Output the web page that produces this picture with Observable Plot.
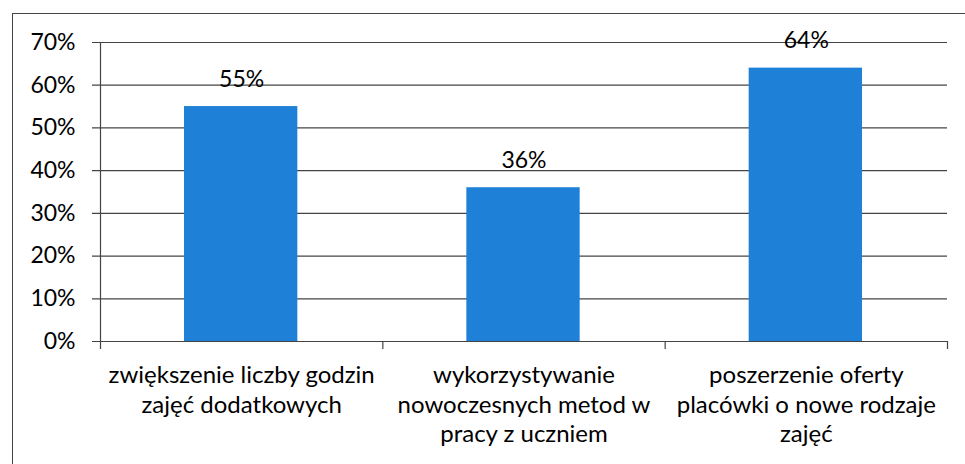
<!DOCTYPE html>
<html>
<head>
<meta charset="utf-8">
<script src="https://cdn.jsdelivr.net/npm/d3@7"></script>
<script src="https://cdn.jsdelivr.net/npm/@observablehq/plot@0.6"></script>
<style>
  html, body { margin: 0; padding: 0; background: #fff; }
  #wrap { position: relative; width: 965px; height: 464px; overflow: hidden; }
  #border { position: absolute; left: 12px; top: 13px; width: 1000px; height: 500px;
            border-left: 1.5px solid #444; border-top: 1.5px solid #444; pointer-events: none; }
</style>
</head>
<body>
<div id="wrap"><div id="border"></div></div>
<script>
const categories = [
  "zwiększenie liczby godzin\nzajęć dodatkowych",
  "wykorzystywanie\nnowoczesnych metod w\npracy z uczniem",
  "poszerzenie oferty\nplacówki o nowe rodzaje\nzajęć"
];
const values = [55, 36, 64];
const yTicks = [0, 10, 20, 30, 40, 50, 60, 70];

const data = categories.map((c, i) => ({category: c, index: i, value: values[i]}));

const chart = Plot.plot({
  width: 965,
  height: 464,
  marginLeft: 100,
  marginRight: 18,
  marginTop: 42,
  marginBottom: 123,
  x: {domain: [0, categories.length], axis: null},
  y: {domain: [0, 70], axis: null},
  style: {fontFamily: "Lato, 'Open Sans', sans-serif", fontSize: "22px", color: "#000", background: "transparent"},
  marks: [
    Plot.ruleY(yTicks, {stroke: "#444", strokeWidth: 1.2, insetLeft: -8}),
    Plot.rectY(data, {x1: d => d.index, x2: d => d.index + 1, y: "value", fill: "#1f80d8", insetLeft: 84, insetRight: 85}),
    Plot.ruleX([0], {stroke: "#444", strokeWidth: 1.2}),
    Plot.axisY({ticks: yTicks, tickSize: 0, tickPadding: 25, tickFormat: d => d + "%", fontSize: 23, label: null}),
    Plot.axisX({ticks: d3.range(categories.length + 1), tickSize: 8, tickFormat: () => "", stroke: "#444", strokeWidth: 1.2, label: null}),
    Plot.axisX({ticks: categories.map((c, i) => i + 0.5), tickSize: 0, tickPadding: 21, lineHeight: 1.22,
      tickFormat: d => categories[Math.floor(d)], fontSize: 24, label: null}),
    Plot.text(data, {x: d => d.index + 0.5, y: "value", text: d => d.value + "%", lineAnchor: "bottom", dy: -20, fontSize: 23, fill: "#000"})
  ]
});
document.getElementById("wrap").prepend(chart);
</script>
</body>
</html>
